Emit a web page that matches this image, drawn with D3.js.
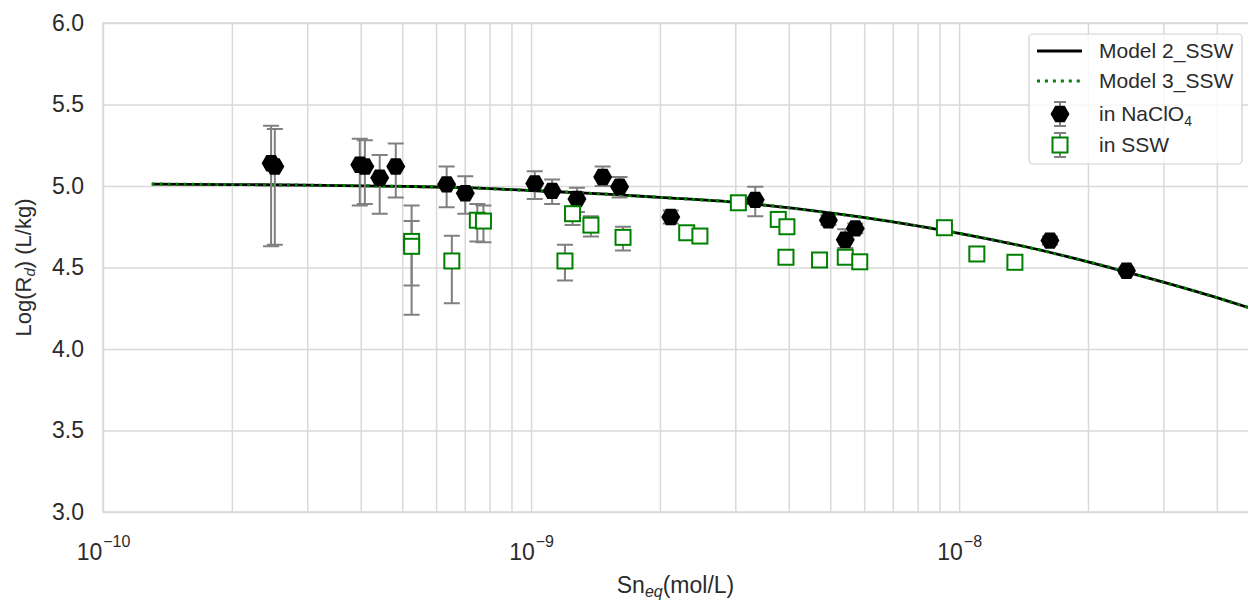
<!DOCTYPE html>
<html>
<head>
<meta charset="utf-8">
<script src="https://cdn.jsdelivr.net/npm/d3@7"></script>
<style>
  body { margin: 0; background: #fff; }
  svg { display: block; font-family: "Liberation Sans", Arial, sans-serif; }
</style>
</head>
<body>
<div id="chart"></div>
<script>
// values
const modelX  = [1.3e-10, 2e-10, 3e-10, 5e-10, 7e-10, 1e-9, 1.5e-9, 2e-9, 3e-9, 5e-9, 7e-9, 1e-8, 1.5e-8, 2e-8, 3e-8, 4e-8, 4.73e-8];
const model2Y = [5.012, 5.009, 5.005, 4.998, 4.99, 4.972, 4.95, 4.93, 4.90, 4.835, 4.78, 4.71, 4.615, 4.535, 4.41, 4.315, 4.255];
const model3Y = [5.012, 5.009, 5.005, 4.998, 4.99, 4.972, 4.95, 4.93, 4.90, 4.835, 4.78, 4.71, 4.615, 4.535, 4.41, 4.315, 4.255];

// in NaClO4
const naX  = [2.47e-10, 2.52e-10, 3.98e-10, 4.09e-10, 4.43e-10, 4.83e-10, 6.35e-10, 7.02e-10, 1.02e-9, 1.12e-9, 1.28e-9, 1.47e-9, 1.61e-9, 2.12e-9, 3.34e-9, 4.95e-9, 5.42e-9, 5.72e-9, 1.63e-8, 2.46e-8];
const naY  = [5.14, 5.12, 5.13, 5.12, 5.05, 5.12, 5.01, 4.955, 5.015, 4.97, 4.92, 5.055, 4.995, 4.81, 4.915, 4.79, 4.67, 4.74, 4.665, 4.48];
const naLo = [4.63, 4.64, 4.88, 4.89, 4.83, 4.93, 4.87, 4.83, 4.92, 4.89, 4.84, 5.00, 4.93, 4.77, 4.815, 4.76, 4.62, 4.71, 4.64, 4.46];
const naHi = [5.37, 5.35, 5.29, 5.28, 5.19, 5.26, 5.12, 5.06, 5.09, 5.04, 4.99, 5.12, 5.055, 4.85, 4.995, 4.82, 4.735, 4.77, 4.69, 4.50];

// in SSW
const sswX  = [5.26e-10, 5.26e-10, 6.53e-10, 7.49e-10, 7.74e-10, 1.20e-9, 1.25e-9, 1.38e-9, 1.64e-9, 2.31e-9, 2.48e-9, 3.05e-9, 3.78e-9, 3.96e-9, 3.94e-9, 4.72e-9, 5.42e-9, 5.86e-9, 9.24e-9, 1.10e-8, 1.35e-8];
const sswY  = [4.66, 4.63, 4.54, 4.79, 4.785, 4.54, 4.83, 4.76, 4.685, 4.713, 4.693, 4.897, 4.795, 4.75, 4.563, 4.546, 4.563, 4.535, 4.744, 4.583, 4.532];
const sswLo = [4.39, 4.21, 4.28, 4.66, 4.655, 4.42, 4.76, 4.69, 4.605, 4.69, 4.67, 4.88, 4.78, 4.735, 4.53, 4.53, 4.55, 4.52, 4.73, 4.57, 4.52];
const sswHi = [4.88, 4.785, 4.695, 4.89, 4.88, 4.64, 4.87, 4.815, 4.75, 4.73, 4.71, 4.91, 4.81, 4.765, 4.59, 4.56, 4.575, 4.55, 4.76, 4.60, 4.545];

const xDomain = [1e-10, 4.73e-8];
const yTicks = [3.0, 3.5, 4.0, 4.5, 5.0, 5.5, 6.0];
const xMajor = [1e-10, 1e-9, 1e-8];

const W = 1248, H = 603;
const plot = { left: 103, right: 1248, top: 23, bottom: 512 };
const gridColor = "#d9d9d9";
const textColor = "#2b2b2b";

const svg = d3.select("#chart").append("svg")
    .attr("width", W)
    .attr("height", H);

const x = d3.scaleLog().domain(xDomain).range([plot.left, plot.right]);
const y = d3.scaleLinear().domain([3, 6]).range([plot.bottom, plot.top]);

// minor + major vertical grid
const xAll = [];
for (let e = -10; e <= -8; e++) {
    for (let m = 1; m <= 9; m++) {
        const v = m * Math.pow(10, e);
        if (v >= xDomain[0] && v <= xDomain[1]) xAll.push(v);
    }
}

svg.append("g")
    .attr("transform", `translate(0,${plot.bottom})`)
    .call(d3.axisBottom(x).tickValues(xAll).tickSize(-(plot.bottom - plot.top)).tickFormat(""))
    .call(g => g.select(".domain").remove())
    .call(g => g.selectAll(".tick line").attr("stroke", gridColor).attr("stroke-width", 1.5));

// horizontal grid + y labels
svg.append("g")
    .attr("transform", `translate(${plot.left},0)`)
    .call(d3.axisLeft(y).tickValues(yTicks).tickSize(-(plot.right - plot.left)).tickPadding(19).tickFormat(d3.format(".1f")))
    .call(g => g.select(".domain").remove())
    .call(g => g.selectAll(".tick line").attr("stroke", gridColor).attr("stroke-width", 1.5))
    .call(g => g.selectAll(".tick text")
        .attr("fill", textColor)
        .attr("font-size", 23)
        .attr("font-family", "Liberation Sans, Arial, sans-serif"));

// x decade labels 10^n
const xLab = svg.append("g")
    .attr("transform", `translate(0,${plot.bottom})`)
    .call(d3.axisBottom(x).tickValues(xMajor).tickSize(0).tickFormat(""))
    .call(g => g.select(".domain").remove());

xLab.selectAll(".tick text")
    .attr("y", 48)
    .attr("dy", 0)
    .attr("fill", textColor)
    .attr("font-size", 23)
    .attr("font-family", "Liberation Sans, Arial, sans-serif")
    .each(function (d) {
        const t = d3.select(this);
        const ex = Math.round(Math.log10(d));
        t.append("tspan").text("10");
        t.append("tspan").attr("dy", -13).attr("dx", 1).attr("font-size", 16).text("\u2212" + Math.abs(ex));
    });

// spines
svg.append("path")
    .attr("d", `M${plot.right + 1},${plot.top}H${plot.left}V${plot.bottom}H${plot.right + 1}`)
    .attr("fill", "none")
    .attr("stroke", gridColor)
    .attr("stroke-width", 1.5);

// model curves
const line = d3.line()
    .x(d => x(d[0]))
    .y(d => y(d[1]))
    .curve(d3.curveMonotoneX);

svg.append("path")
    .datum(d3.zip(modelX, model2Y))
    .attr("d", line)
    .attr("fill", "none")
    .attr("stroke", "#000")
    .attr("stroke-width", 2.8);

svg.append("path")
    .datum(d3.zip(modelX, model3Y))
    .attr("d", line)
    .attr("fill", "none")
    .attr("stroke", "#008000")
    .attr("stroke-width", 3)
    .attr("stroke-dasharray", "3,4.95");

// hexagon marker (flat top)
const hexagon = {
    draw(ctx, size) {
        const r = Math.sqrt(size * 2 / (3 * Math.sqrt(3)));
        for (let k = 0; k < 6; k++) {
            const a = k * Math.PI / 3;
            if (k === 0) ctx.moveTo(r * Math.cos(a), r * Math.sin(a));
            else ctx.lineTo(r * Math.cos(a), r * Math.sin(a));
        }
        ctx.closePath();
    }
};
const hexSize = 3 * Math.sqrt(3) / 2 * 9.5 * 9.5;

function errorBars(g, xs, ys, los, his, cap) {
    const rows = d3.zip(xs, ys, los, his);
    const eg = g.append("g")
        .attr("stroke", "#808080")
        .attr("stroke-width", 2)
        .attr("fill", "none");
    eg.selectAll("path")
        .data(rows)
        .join("path")
        .attr("d", d => {
            const cx = x(d[0]), y0 = y(d[2]), y1 = y(d[3]);
            return `M${cx},${y0}V${y1}M${cx - cap},${y0}H${cx + cap}M${cx - cap},${y1}H${cx + cap}`;
        });
    return rows;
}

// NaClO4
const gNa = svg.append("g");
const naRows = errorBars(gNa, naX, naY, naLo, naHi, 8);
gNa.selectAll("path.hex")
    .data(naRows)
    .join("path")
    .attr("class", "hex")
    .attr("transform", d => `translate(${x(d[0])},${y(d[1])})`)
    .attr("d", d3.symbol().type(hexagon).size(hexSize))
    .attr("fill", "#000");

// SSW
const gSsw = svg.append("g");
const sswRows = errorBars(gSsw, sswX, sswY, sswLo, sswHi, 8);
gSsw.selectAll("rect")
    .data(sswRows)
    .join("rect")
    .attr("x", d => x(d[0]) - 7.5)
    .attr("y", d => y(d[1]) - 7.5)
    .attr("width", 15)
    .attr("height", 15)
    .attr("fill", "#fff")
    .attr("stroke", "#008000")
    .attr("stroke-width", 2);

// axis titles
const yTitle = svg.append("text")
    .attr("transform", `translate(31,${(plot.top + plot.bottom) / 2}) rotate(-90)`)
    .attr("text-anchor", "middle")
    .attr("fill", textColor)
    .attr("font-size", 22);
yTitle.append("tspan").text("Log(R");
yTitle.append("tspan").attr("font-style", "italic").attr("font-size", 15).attr("dy", 4).text("d");
yTitle.append("tspan").attr("dy", -4).text(") (L/kg)");

const xTitle = svg.append("text")
    .attr("x", (plot.left + plot.right) / 2)
    .attr("y", 593)
    .attr("text-anchor", "middle")
    .attr("fill", textColor)
    .attr("font-size", 23);
xTitle.append("tspan").text("Sn");
xTitle.append("tspan").attr("font-style", "italic").attr("font-size", 16).attr("dy", 4).text("eq");
xTitle.append("tspan").attr("dy", -4).text("(mol/L)");

// legend
const lg = svg.append("g");
lg.append("rect")
    .attr("x", 1029).attr("y", 34)
    .attr("width", 213).attr("height", 130)
    .attr("rx", 4)
    .attr("fill", "#fff").attr("fill-opacity", 0.8)
    .attr("stroke", "#d0d0d0").attr("stroke-width", 1.2);

const legendRows = ["Model 2_SSW", "Model 3_SSW", "in NaClO", "in SSW"];
const rowY = [51, 81, 114, 145];
const hx0 = 1037, hx1 = 1082, hxc = 1060, tx = 1099;

lg.append("line").attr("x1", hx0).attr("x2", hx1).attr("y1", rowY[0]).attr("y2", rowY[0])
    .attr("stroke", "#000").attr("stroke-width", 2.8);
lg.append("line").attr("x1", hx0).attr("x2", hx1).attr("y1", rowY[1]).attr("y2", rowY[1])
    .attr("stroke", "#008000").attr("stroke-width", 3).attr("stroke-dasharray", "3,4.95");

[[rowY[2], 6], [rowY[3], 6]].forEach(([cy, cap]) => {
    lg.append("path")
        .attr("d", `M${hxc},${cy - 12}V${cy + 12}M${hxc - cap},${cy - 12}H${hxc + cap}M${hxc - cap},${cy + 12}H${hxc + cap}`)
        .attr("stroke", "#808080").attr("stroke-width", 2).attr("fill", "none");
});
lg.append("path")
    .attr("transform", `translate(${hxc},${rowY[2]})`)
    .attr("d", d3.symbol().type(hexagon).size(hexSize))
    .attr("fill", "#000");
lg.append("rect")
    .attr("x", hxc - 7.5).attr("y", rowY[3] - 7.5)
    .attr("width", 15).attr("height", 15)
    .attr("fill", "#fff").attr("stroke", "#008000").attr("stroke-width", 2);

lg.selectAll("text.lab")
    .data(legendRows)
    .join("text")
    .attr("class", "lab")
    .attr("x", tx)
    .attr("y", (d, i) => rowY[i])
    .attr("dy", "0.35em")
    .attr("fill", textColor)
    .attr("font-size", 21)
    .each(function (d, i) {
        const t = d3.select(this);
        t.append("tspan").text(d);
        if (i === 2) t.append("tspan").attr("font-size", 14).attr("dy", 5).text("4");
    });
</script>
</body>
</html>
